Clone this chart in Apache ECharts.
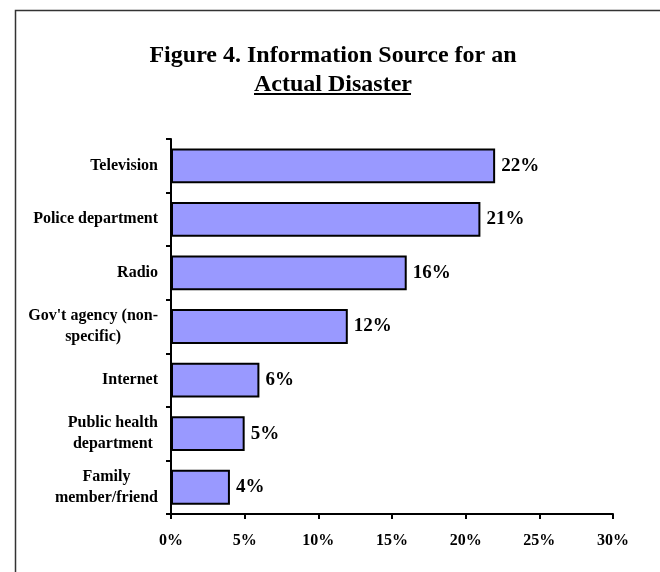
<!DOCTYPE html>
<html>
<head>
<meta charset="utf-8">
<script src="https://cdn.jsdelivr.net/npm/echarts@6/dist/echarts.min.js"></script>
<style>
  html, body { margin: 0; padding: 0; background: #fff; }
  #chart { width: 660px; height: 572px; }
</style>
</head>
<body>
<div id="chart"></div>
<script>
// Information sources named for an actual disaster (share of respondents, %)
const categories = [
  'Television',
  'Police department',
  'Radio',
  "Gov't agency (non-\nspecific)",
  'Internet',
  'Public health\ndepartment',
  'Family\nmember/friend'
];
const shares = [22, 21, 16, 12, 6, 5, 4];
const axisMax = 30;
const axisStep = 5;

const serif = '"Liberation Serif", "Times New Roman", serif';

const chart = echarts.init(document.getElementById('chart'), null, { renderer: 'canvas' });

chart.setOption({
  backgroundColor: '#ffffff',
  animation: false,
  title: {
    text: 'Figure 4. Information Source for an\nActual Disaster',
    left: 328,
    top: 36,
    textAlign: 'center',
    textStyle: {
      fontFamily: serif,
      fontWeight: 'bold',
      fontSize: 24,
      lineHeight: 29,
      color: '#000'
    }
  },
  graphic: [
    {
      // outer frame (only top and left edges fall inside the page)
      type: 'rect',
      shape: { x: 15.5, y: 10.5, width: 800, height: 700 },
      style: { fill: null, stroke: '#333', lineWidth: 1.5 },
      silent: true
    },
    {
      // underline of the second title line
      type: 'line',
      shape: { x1: 254, y1: 94, x2: 411, y2: 94 },
      style: { stroke: '#000', lineWidth: 2 },
      silent: true
    }
  ],
  grid: {
    left: 171,
    right: 47,
    top: 139,
    bottom: 58,
    containLabel: false
  },
  xAxis: {
    type: 'value',
    min: 0,
    max: axisMax,
    interval: axisStep,
    splitLine: { show: false },
    axisLine: { show: true, lineStyle: { color: '#000', width: 2 } },
    axisTick: { show: true, length: 5, lineStyle: { color: '#000', width: 2 } },
    axisLabel: {
      formatter: '{value}%',
      fontFamily: serif,
      fontWeight: 'bold',
      fontSize: 16,
      color: '#000',
      margin: 19
    }
  },
  yAxis: {
    type: 'category',
    data: categories,
    inverse: true,
    axisLine: { show: true, lineStyle: { color: '#000', width: 2 } },
    axisTick: { show: true, length: 5, lineStyle: { color: '#000', width: 2 } },
    axisLabel: {
      margin: 13,
      align: 'right',
      formatter: function (v) {
        return v.split('\n').map(function (s) { return '{c|' + s + '}'; }).join('\n');
      },
      rich: {
        c: {
          align: 'center',
          fontFamily: serif,
          fontWeight: 'bold',
          fontSize: 16,
          lineHeight: 21,
          color: '#000'
        }
      }
    }
  },
  series: [
    {
      type: 'bar',
      data: shares,
      barWidth: '65%',
      itemStyle: {
        color: '#9999ff',
        borderColor: '#000',
        borderWidth: 2
      },
      label: {
        show: true,
        position: 'right',
        distance: 6,
        formatter: '{c}%',
        fontFamily: serif,
        fontWeight: 'bold',
        fontSize: 19,
        color: '#000'
      }
    }
  ]
});
</script>
</body>
</html>
